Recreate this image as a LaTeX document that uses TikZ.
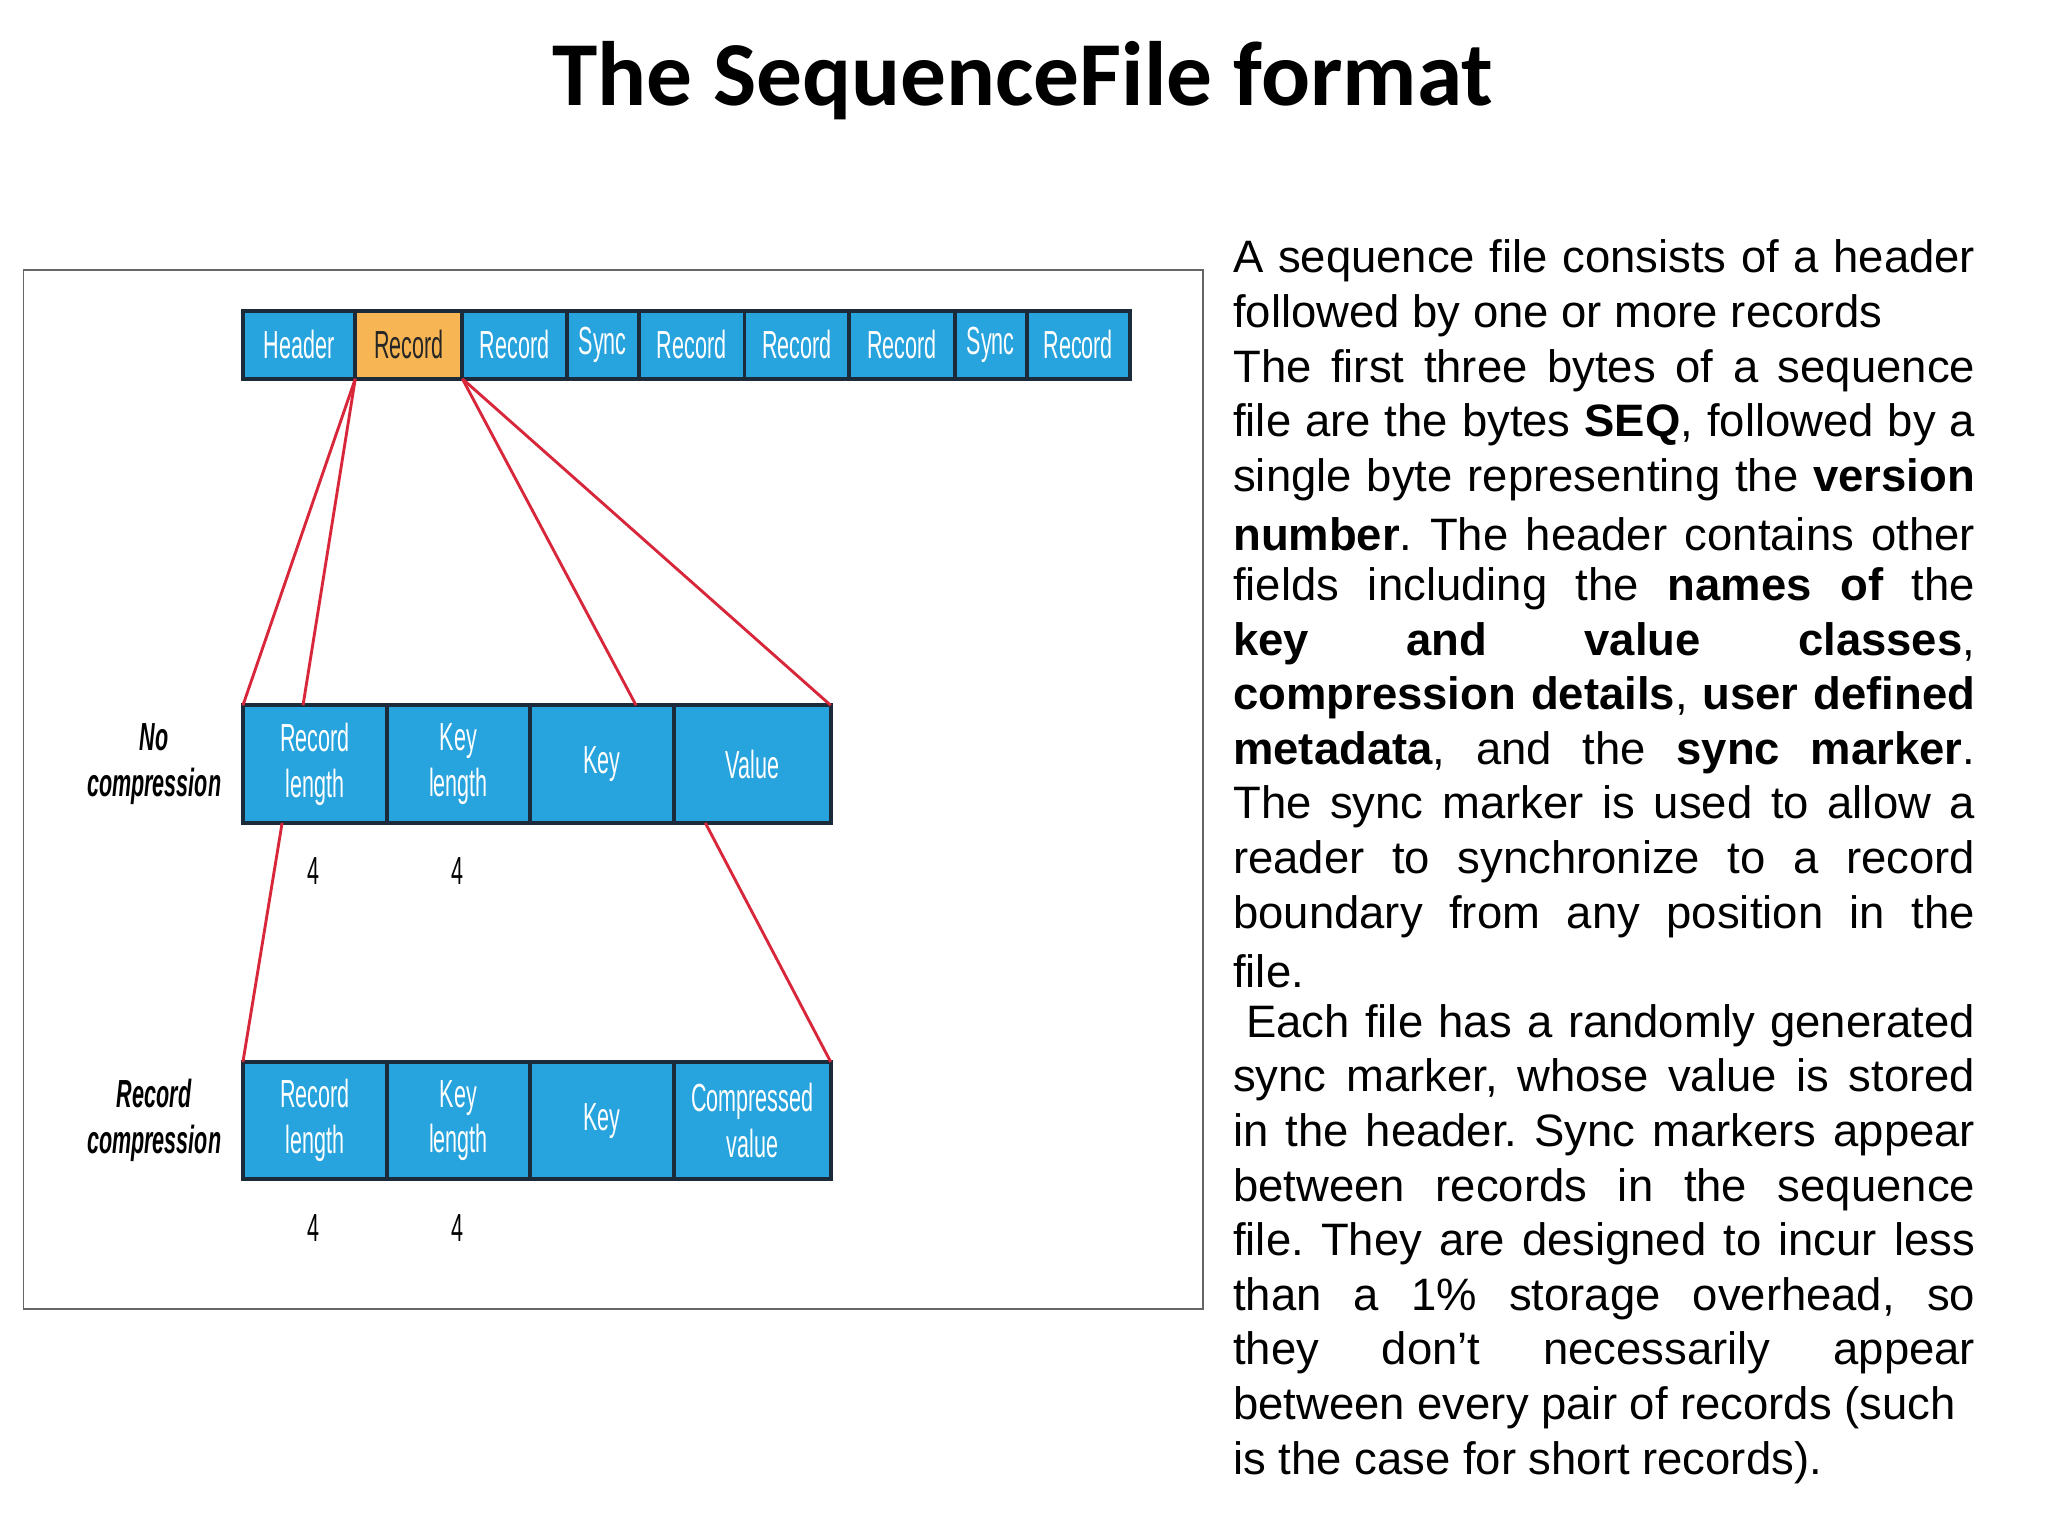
\documentclass[tikz,border=0pt]{standalone}
\usepackage{fontspec}
\setmainfont{Liberation Sans}
\newfontfamily\titlefont{Carlito}
\newfontfamily\narrowfont[FakeStretch=0.55]{Liberation Sans}
\definecolor{cellblue}{HTML}{27A3DD}
\definecolor{cellorange}{HTML}{F7B553}
\definecolor{edge}{HTML}{1C2B3A}
\definecolor{redline}{HTML}{D8263A}
\tikzset{
 cell/.style={draw=edge,line width=3pt,fill=cellblue},
 ctext/.style={align=center,text=white,font=\narrowfont\fontsize{30}{35}\selectfont},
 red/.style={draw=redline,line width=2.2pt},
 num/.style={font=\narrowfont\fontsize{30}{30}\selectfont},
 side/.style={font=\narrowfont\bfseries\itshape\fontsize{30}{35}\selectfont,align=center},
 tl/.style={anchor=west,inner sep=0pt,font=\fontsize{34.8}{40}\selectfont}
}
\newcommand{\jl}[1]{\makebox[568pt][s]{#1}}
\begin{document}
\frenchspacing
\begin{tikzpicture}[x=1pt,y=-1pt]
\useasboundingbox[fill=white] (0,0) rectangle (1568,1176);
\node[font=\titlefont\bfseries\fontsize{70}{78}\selectfont] (title) at (783,62) {The SequenceFile format};
\draw[draw=gray!80!black,line width=1.5pt] (18,207) rectangle (921,1002);
% top bar
\foreach \a/\b/\t/\n in {186/272/Header/h,272/354/Record/r1,354/434/Record/r2,434/489/Sync/s1,489/570/Record/r3,570/650/Record/r4,650/731/Record/r5,731/786/Sync/s2,786/865/Record/r6}{
  \path[cell] (\a,238) rectangle (\b,290);
  \node[ctext] (\n) at ({(\a+\b)/2},264) {\t};
}
\path[cell,fill=cellorange] (272,238) rectangle (354,290);
\node[ctext,text=black!85] at (313,264) {Record};
% middle row
\foreach \a/\b/\t/\n in {186/296/Record\\length/m1,296/406/Key\\length/m2,406/516/Key/m3,516/636/Value/m4}{
  \path[cell] (\a,540) rectangle (\b,630);
  \node[ctext] (\n) at ({(\a+\b)/2},585) {\t};
}
\foreach \a/\b/\t/\n in {186/296/Record\\length/b1,296/406/Key\\length/b2,406/516/Key/b3,516/636/Compressed\\value/b4}{
  \path[cell] (\a,813) rectangle (\b,903);
  \node[ctext] (\n) at ({(\a+\b)/2},858) {\t};
}
\node[num] (n1) at (240,667) {4};
\node[num] (n2) at (350,667) {4};
\node[num] (n3) at (240,940) {4};
\node[num] (n4) at (350,940) {4};
\node[side] (l1) at (118,585) {No\\compression};
\node[side] (l2) at (118,858) {Record\\compression};
% red lines
\coordinate (p1) at (272,290); \coordinate (p2) at (354,290);
\draw[red] (p1) -- (186,540);
\draw[red] (p1) -- (232,540);
\draw[red] (p2) -- (487,540);
\draw[red] (p2) -- (636,540);
\draw[red] (216,630) -- (186,813);
\draw[red] (540,630) -- (636,813);
% text
\foreach \i/\t in {
1/\jl{A sequence file consists of a header},
2/{followed by one or more records},
3/\jl{The first three bytes of a sequence},
4/\jl{file are the bytes \textbf{SEQ}, followed by a},
5/\jl{single byte representing the \textbf{version}},
6/\jl{\textbf{number}. The header contains other},
7/\jl{fields including the \textbf{names of} the},
8/\jl{\textbf{key and value classes},},
9/\jl{\textbf{compression details}, \textbf{user defined}},
10/\jl{\textbf{metadata}, and the \textbf{sync marker}.},
11/\jl{The sync marker is used to allow a},
12/\jl{reader to synchronize to a record},
13/\jl{boundary from any position in the},
14/{file.},
15/\jl{\hspace{10pt}Each file has a randomly generated},
16/\jl{sync marker, whose value is stored},
17/\jl{in the header. Sync markers appear},
18/\jl{between records in the sequence},
19/\jl{file. They are designed to incur less},
20/\jl{than a 1\% storage overhead, so},
21/\jl{they don’t necessarily appear},
22/{between every pair of records (such},
23/{is the case for short records).}}{
  \node[tl] (t\i) at (944,{200+41.8*(\i-1)}) {\t};
}
\end{tikzpicture}
\end{document}
